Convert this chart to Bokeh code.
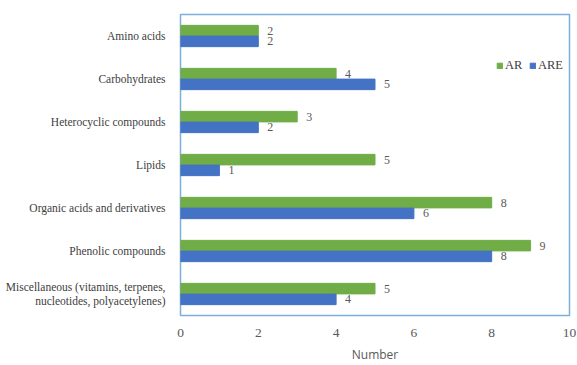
from bokeh.plotting import figure
from bokeh.models import ColumnDataSource, FactorRange, Legend, LegendItem, LabelSet
from bokeh.transform import dodge
from bokeh.embed import file_html
from bokeh.resources import INLINE

categories = [
    "Amino acids",
    "Carbohydrates",
    "Heterocyclic compounds",
    "Lipids",
    "Organic acids and derivatives",
    "Phenolic compounds",
    "Miscellaneous (vitamins, terpenes,\nnucleotides, polyacetylenes)",
]
ar_counts = [2, 4, 3, 5, 8, 9, 5]
are_counts = [2, 5, 2, 1, 6, 8, 4]
x_ticks = [0, 2, 4, 6, 8, 10]

GREEN = "#70AD47"
BLUE = "#4472C4"
SERIF = "Times New Roman"

src = ColumnDataSource(dict(
    cat=categories,
    ar=ar_counts,
    are=are_counts,
    ar_txt=[str(v) for v in ar_counts],
    are_txt=[str(v) for v in are_counts],
))

p = figure(
    width=577, height=365,
    y_range=FactorRange(factors=list(reversed(categories)), range_padding=0),
    x_range=(0, 10),
    output_backend="svg", toolbar_location=None,
    min_border_left=180, min_border_right=8, min_border_top=14, min_border_bottom=40,
)
p.background_fill_color = "white"
p.border_fill_color = "white"
p.outline_line_color = "#7EAEDC"
p.outline_line_width = 1.5
p.xgrid.visible = False
p.ygrid.visible = False

r_ar = p.hbar(y=dodge("cat", 0.125, range=p.y_range), right="ar", left=0, height=0.245,
              source=src, fill_color=GREEN, line_color=GREEN)
r_are = p.hbar(y=dodge("cat", -0.125, range=p.y_range), right="are", left=0, height=0.245,
               source=src, fill_color=BLUE, line_color=BLUE)

for field, txt, off in (("ar", "ar_txt", 0.125), ("are", "are_txt", -0.125)):
    p.add_layout(LabelSet(x=field, y=dodge("cat", off, range=p.y_range), text=txt, source=src,
                          x_offset=9, text_baseline="middle", text_align="left",
                          text_font="Open Sans", text_font_size="12px", text_color="#595959"))

# axes
p.xaxis.ticker = x_ticks
p.xaxis.axis_line_color = None
p.xaxis.major_tick_line_color = None
p.xaxis.minor_tick_line_color = None
p.xaxis.major_label_standoff = 7
p.xaxis.major_label_text_font = SERIF
p.xaxis.major_label_text_font_size = "13.5px"
p.xaxis.major_label_text_color = "#595959"
p.xaxis.axis_label = "Number"
p.xaxis.axis_label_text_font = "Open Sans"
p.xaxis.axis_label_text_font_style = "normal"
p.xaxis.axis_label_text_font_size = "12px"
p.xaxis.axis_label_text_color = "#595959"
p.xaxis.axis_label_standoff = 6

p.yaxis.axis_line_color = None
p.yaxis.major_tick_line_color = None
p.yaxis.minor_tick_line_color = None
p.yaxis.major_label_standoff = 9
p.yaxis.major_label_text_font = SERIF
p.yaxis.major_label_text_font_size = "11.5px"
p.yaxis.major_label_text_color = "#404040"
p.yaxis.major_label_text_align = "right"

legend = Legend(items=[LegendItem(label="AR", renderers=[r_ar]),
                       LegendItem(label="ARE", renderers=[r_are])],
                orientation="horizontal", location=(316, 242))
legend.glyph_width = 7
legend.glyph_height = 7
legend.label_text_font = SERIF
legend.label_text_font_size = "12.5px"
legend.label_text_color = "#404040"
legend.label_standoff = 2
legend.spacing = 4
legend.padding = 0
legend.margin = 0
legend.border_line_color = None
legend.background_fill_alpha = 0
p.add_layout(legend, "center")

open("out.html", "w").write(file_html(p, INLINE))
